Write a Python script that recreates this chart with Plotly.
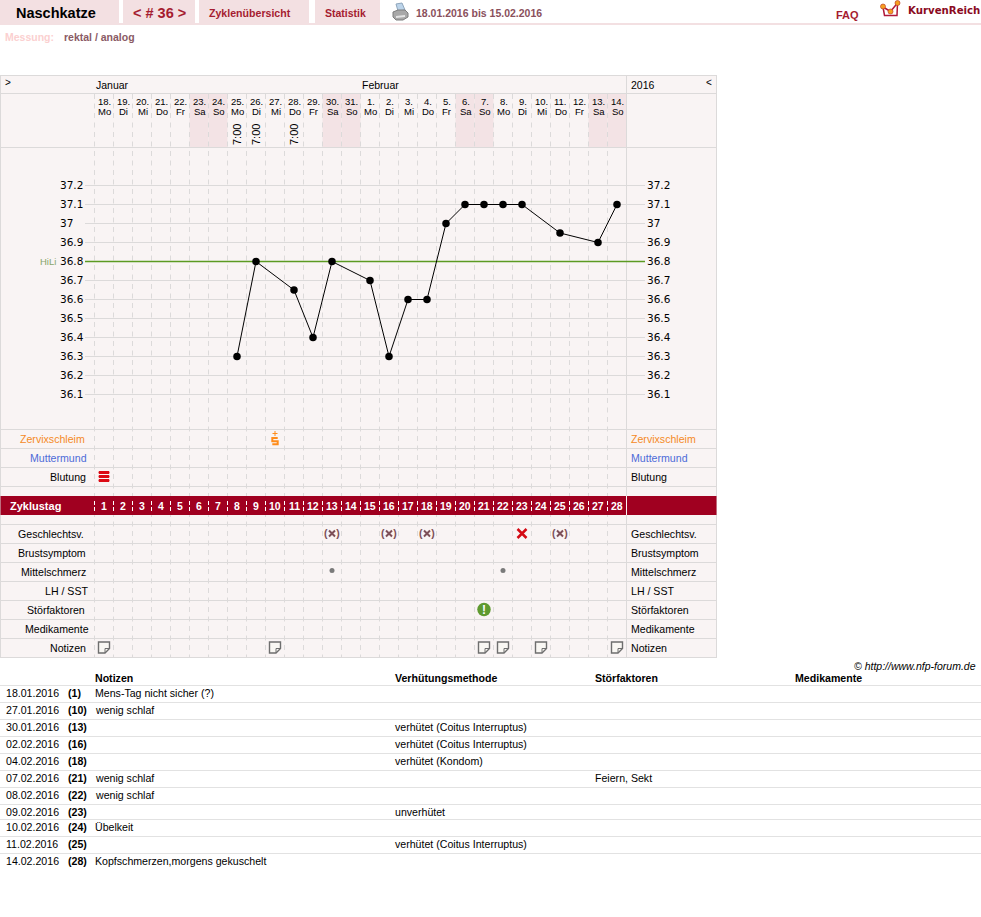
import plotly.graph_objects as go

# ---- cycle data ----
profile_name = "Naschkatze"
cycle_label = "< # 36 >"
date_range = "18.01.2016 bis 15.02.2016"
dates = [18, 19, 20, 21, 22, 23, 24, 25, 26, 27, 28, 29, 30, 31,
         1, 2, 3, 4, 5, 6, 7, 8, 9, 10, 11, 12, 13, 14]
weekdays = ["Mo", "Di", "Mi", "Do", "Fr", "Sa", "So"] * 4
cycle_days = list(range(1, 29))
time_days = [8, 9, 11]
time_label = "7:00"

temp_days = [8, 9, 11, 12, 13, 15, 16, 17, 18, 19, 20, 21, 22, 23, 25, 27, 28]
temp_values = [36.3, 36.8, 36.65, 36.4, 36.8, 36.7, 36.3, 36.6, 36.6, 37.0,
               37.1, 37.1, 37.1, 37.1, 36.95, 36.9, 37.1]
temp_ticks = [37.2, 37.1, 37.0, 36.9, 36.8, 36.7, 36.6, 36.5, 36.4, 36.3, 36.2, 36.1]
cover_line = 36.8

weekend_days = [6, 7, 13, 14, 20, 21, 27, 28]
mucus_days = [10]
bleeding_days = [1]
protected_sex_days = [13, 16, 18, 25]
unprotected_sex_days = [23]
pain_days = [13, 22]
disturbance_days = [21]
note_days = [1, 10, 21, 22, 24, 28]

upper_rows = ["Zervixschleim", "Muttermund", "Blutung"]
lower_rows = ["Geschlechtsv.", "Brustsymptom", "Mittelschmerz", "LH / SST",
              "Störfaktoren", "Medikamente", "Notizen"]

note_header = ["Notizen", "Verhütungsmethode", "Störfaktoren", "Medikamente"]
note_dates = ["18.01.2016", "27.01.2016", "30.01.2016", "02.02.2016", "04.02.2016", "07.02.2016",
              "08.02.2016", "09.02.2016", "10.02.2016", "11.02.2016", "14.02.2016"]
note_cycle = ["(1)", "(10)", "(13)", "(16)", "(18)", "(21)", "(22)", "(23)", "(24)", "(25)", "(28)"]
note_text = ["Mens-Tag nicht sicher (?)", "wenig schlaf", "", "", "", "wenig schlaf", "wenig schlaf",
             "", "Übelkeit", "", "Kopfschmerzen,morgens gekuschelt"]
note_method = ["", "", "verhütet (Coitus Interruptus)", "verhütet (Coitus Interruptus)",
               "verhütet (Kondom)", "", "", "unverhütet", "", "verhütet (Coitus Interruptus)", ""]
note_factors = ["", "", "", "", "", "Feiern, Sekt", "", "", "", "", ""]

# ---- page geometry and palette ----
W, H = 981, 917
DAY_PX = 19.0
DAY1_PX = 104.0
T_PX = 190.0
T_REF = 37.2
T_REF_PX = 185.5

SANS = "Liberation Sans"
CELL = "#f9f4f4"
WEEKEND = "#f3e3e5"
LINE = "#dcdada"
PINK = "#f3e0e2"
CRIMSON = "#a51c30"
BAND = "#a00020"
MAUVE = "#7d4f58"

shapes, notes = [], []


def day_at(px):
    return 1 + (px - DAY1_PX) / DAY_PX


def rect(x0, y0, x1, y1, fill):
    shapes.append(dict(type="rect", xref="x2", yref="y2", x0=x0, y0=y0, x1=x1, y1=y1,
                       fillcolor=fill, line=dict(width=0), layer="below"))


def hline(x0, x1, y, color=LINE, width=1):
    shapes.append(dict(type="line", xref="x2", yref="y2", x0=x0, x1=x1, y0=y, y1=y,
                       line=dict(color=color, width=width), layer="below"))


def vline(x, y0, y1, color=LINE, width=1):
    shapes.append(dict(type="line", xref="x2", yref="y2", x0=x, x1=x, y0=y0, y1=y1,
                       line=dict(color=color, width=width), layer="below"))


def glyph(day, row_y, path, fill="rgba(0,0,0,0)", color="rgba(0,0,0,0)", width=0):
    # Pixel-sized icon anchored to a cycle day and a table row
    shapes.append(dict(type="path", xref="x", yref="y2", xsizemode="pixel", ysizemode="pixel",
                       xanchor=day, yanchor=row_y, path=path, fillcolor=fill,
                       line=dict(color=color, width=width), layer="below"))


def pix(path, fill="rgba(0,0,0,0)", color="rgba(0,0,0,0)", width=0):
    shapes.append(dict(type="path", xref="x2", yref="y2", path=path, fillcolor=fill,
                       line=dict(color=color, width=width), layer="below"))


def label(x, y, text, size=10.6, color="#000", bold=False, anchor="left", family=SANS,
          xref="x2", yref="y2", angle=0, italic=False, yshift=0):
    if bold:
        text = f"<b>{text}</b>"
    if italic:
        text = f"<i>{text}</i>"
    notes.append(dict(x=x, y=y, xref=xref, yref=yref, text=text, showarrow=False, yshift=yshift,
                      xanchor=anchor, yanchor="middle", textangle=angle, borderpad=0, borderwidth=0,
                      font=dict(family=family, size=size, color=color)))


# ---- top navigation ----
rect(0, 0, 119, 23, PINK)
rect(123, 0, 195, 23, PINK)
rect(199, 0, 309, 23, PINK)
rect(315, 0, 380, 23, PINK)
rect(0, 23, W, 25, PINK)
label(16, 13, profile_name, size=14.5, bold=True)
label(133, 13, cycle_label, size=14.5, bold=True, color=CRIMSON)
label(209, 12.5, "Zyklenübersicht", size=10.6, bold=True, color=CRIMSON)
label(325, 12.5, "Statistik", size=10.5, bold=True, color=CRIMSON)
label(415.5, 12.5, date_range, size=10.5, bold=True, color="#8a505c")
label(836, 14.5, "FAQ", size=11, bold=True, color=CRIMSON)
label(908, 10.5, "KurvenReich", size=10.2, bold=True, color="#8a0a1e", family="DejaVu Sans")
label(5, 36.5, "Messung:", size=10.5, bold=True, color="#fbd0d0")
label(64, 36.5, "rektal / analog", size=10.5, bold=True, color="#8a5a64")

# printer icon
pix("M396,4 L402,3 L405,10 L398,11 Z", fill="#bcd4ea", color="#8fa6bc", width=1)
pix("M393,12 L398,10 L405,10 L408,13 L408,17 L403,20 L396,20 L393,17 Z", fill="#a8a8a8", color="#7d7d7d", width=1)
pix("M396,16 L405,15 L405,17 L396,18 Z", fill="#e4e4e4")

# logo
pix("M883,7 L884.5,15.5 L897,15.5 L897.5,3", color="#b0183a", width=1.5)
pix("M883,7 L890.5,11.5 L897.5,3", color="#b0183a", width=1.5)
for cx, cy in ((883, 6.5), (890.5, 11.5), (897.5, 3)):
    shapes.append(dict(type="circle", xref="x2", yref="y2", x0=cx - 2.5, x1=cx + 2.5, y0=cy - 2.5, y1=cy + 2.5,
                       fillcolor="#f5a020", line=dict(color="#c0402a", width=0.7), layer="below"))

# ---- chart table: backgrounds ----
rect(0.5, 75.5, 716.5, 657.5, CELL)
for d in weekend_days:
    shapes.append(dict(type="rect", xref="x", yref="y2", x0=d - 0.5, x1=d + 0.5, y0=93.5, y1=147.5,
                       fillcolor=WEEKEND, line=dict(width=0), layer="below"))

# dashed day separators
for d in cycle_days:
    shapes.append(dict(type="line", xref="x", yref="y2", x0=d - 0.5, x1=d - 0.5, y0=94, y1=657,
                       line=dict(color=LINE, width=1, dash="5px,4.5px"), layer="below"))

# table rules
row_rules = [75.5, 93.5, 147.5, 429.5, 448.5, 467.5, 486.5, 524.5, 543.5, 562.5,
             581.5, 600.5, 619.5, 638.5, 657.5]
for y in row_rules:
    hline(0, 717, y)
vline(0.5, 75, 658)
vline(626.5, 75, 658)
vline(716.5, 75, 658)

# temperature tick labels
for t in temp_ticks:
    txt = f"{t:g}"
    label(60, t, txt, size=10.5, family="DejaVu Sans", yref="y", yshift=1)
    label(647, t, txt, size=10.5, family="DejaVu Sans", yref="y", yshift=1)
label(40, cover_line, "HiLi", size=9.5, color="#87a56a", yref="y")

# cycle-day band
rect(0.5, 496, 716.5, 515, BAND)
vline(626.5, 496, 515, color="#f8f3f3")
for d in cycle_days:
    shapes.append(dict(type="line", xref="x", yref="y2", x0=d - 0.5, x1=d - 0.5, y0=501, y1=511,
                       line=dict(color="#ffffff", width=1, dash="4px,2px"), layer="below"))
    label(d, 505.5, str(d), size=10.5, bold=True, color="#fff", anchor="center", xref="x")
label(10, 505.5, "Zyklustag", size=11, bold=True, color="#fff")

# calendar header
label(5, 82.5, "&gt;", size=10)
label(96, 85, "Januar", size=10.5)
label(362, 85, "Februar", size=10.5)
label(631, 85, "2016", size=10.5)
label(706, 82.5, "&lt;", size=10)
for d, day, wd in zip(cycle_days, dates, weekdays):
    label(d + 0.03, 101, f"{day}.", size=9.5, anchor="center", xref="x")
    label(d + 0.03, 111, wd, size=9.5, anchor="center", xref="x")
for d in time_days:
    label(d, 135, time_label, size=11, anchor="center", xref="x", angle=-90)

# ---- row captions ----
upper_y = [438.5, 457.5, 476.5]
lower_y = [533.5, 552.5, 571.5, 590.5, 609.5, 628.5, 647.5]
upper_colors = ["#f58a1f", "#4d6bd8", "#000"]
upper_left = [20, 30, 50]
lower_left = [18, 18, 21, 45, 27, 25, 50]
for name, y, c, x in zip(upper_rows, upper_y, upper_colors, upper_left):
    label(x, y, name, color=c)
    label(631, y, name, color=c)
for name, y, x in zip(lower_rows, lower_y, lower_left):
    label(x, y, name)
    label(631, y, name)

# ---- observation symbols ----
# mucus: plus sign above an angular S
for d in mucus_days:
    glyph(d, upper_y[0], "M2.7,0.5 H-2.7 V-2.65 H2.7 V-5.8 H-2.7", color="#ff8c1a", width=2)
    glyph(d, upper_y[0], "M-2.5,5 H2.5 M0,7.5 V2.5", color="#ff8c1a", width=1)
# bleeding: three stacked rounded bars
for d in bleeding_days:
    for off in (4, 0, -4):
        glyph(d, upper_y[2],
              f"M-5,{off-1.4} H5 Q6.2,{off} 5,{off+1.4} H-5 Q-6.2,{off} -5,{off-1.4} Z",
              fill="#dc0a14")
# notes: sheet with a folded corner
for d in note_days:
    glyph(d, lower_y[6], "M-5.5,5.5 H5.5 V-1 L1,-5.5 H-5.5 Z", fill="#f9f7f3", color="#6e6e6e", width=1.4)
    glyph(d, lower_y[6], "M5.5,-1 H1 V-5.5", color="#6e6e6e", width=1)

# temperature grid and cover line sit beneath the curve
grid_x, grid_y = [], []
for t in temp_ticks:
    grid_x += [day_at(85), day_at(645), None]
    grid_y += [t, t, None]

traces = [
    go.Scatter(x=grid_x, y=grid_y, mode="lines", xaxis="x", yaxis="y",
               line=dict(color=LINE, width=1)),
    go.Scatter(x=[day_at(85), day_at(645)], y=[cover_line, cover_line], mode="lines", xaxis="x", yaxis="y",
               line=dict(color="#5c9a22", width=1.5)),
    go.Scatter(x=temp_days, y=temp_values, mode="lines+markers", xaxis="x", yaxis="y",
               line=dict(color="#000", width=1), marker=dict(color="#000", size=7.5)),
    go.Scatter(x=protected_sex_days, y=[lower_y[0]] * len(protected_sex_days), mode="markers",
               xaxis="x", yaxis="y2",
               marker=dict(symbol="x-thin", size=6, line=dict(width=2, color=MAUVE))),
    go.Scatter(x=unprotected_sex_days, y=[lower_y[0]] * len(unprotected_sex_days), mode="markers",
               xaxis="x", yaxis="y2",
               marker=dict(symbol="x-thin", size=9, line=dict(width=2.5, color="#d40a14"))),
    go.Scatter(x=pain_days, y=[lower_y[2] - 1] * len(pain_days), mode="markers",
               xaxis="x", yaxis="y2", marker=dict(size=5, color="#7a7a7a")),
    go.Scatter(x=disturbance_days, y=[lower_y[4]] * len(disturbance_days), mode="markers",
               xaxis="x", yaxis="y2", marker=dict(size=13.5, color="#5f9a30")),
]
for d in protected_sex_days:
    label(d, lower_y[0] - 1, "(&#160;&#160;&#160;)", size=10.5, bold=True, color=MAUVE, anchor="center", xref="x")
for d in disturbance_days:
    label(d, lower_y[4], "!", size=12, bold=True, color="#fff", anchor="center", xref="x")

# ---- notes table ----
label(976, 665.5, "© http://www.nfp-forum.de", size=10.5, italic=True, anchor="right")
for txt, x in zip(note_header, (95, 395, 595, 795)):
    label(x, 678, txt, size=10.6, bold=True)
rule_y = [685.5, 702.5, 719.5, 736.5, 753.5, 770.5, 787.5, 804.5, 819.5, 836.5, 853.5]
row_y = [693, 710, 727, 744, 761, 778, 795, 812, 827, 844, 861]
for y in rule_y:
    hline(0, W, y, color="#e2e2e2")
for y, a, b, c, e, f in zip(row_y, note_dates, note_cycle, note_text, note_method, note_factors):
    label(5.5, y, a)
    label(68, y, b, bold=True)
    if c:
        label(95, y, c)
    if e:
        label(395, y, e)
    if f:
        label(595, y, f)

hidden = dict(visible=False, fixedrange=True)
fig = go.Figure(traces)
fig.update_layout(
    width=W, height=H, margin=dict(l=0, r=0, t=0, b=0, pad=0),
    paper_bgcolor="#fff", plot_bgcolor="rgba(0,0,0,0)", showlegend=False,
    shapes=shapes, annotations=notes, hovermode=False,
    xaxis=dict(range=[day_at(0), day_at(W)], domain=[0, 1], **hidden),
    yaxis=dict(range=[T_REF - (H - T_REF_PX) / T_PX, T_REF + T_REF_PX / T_PX], domain=[0, 1], **hidden),
    xaxis2=dict(range=[0, W], domain=[0, 1], overlaying="x", **hidden),
    yaxis2=dict(range=[H, 0], domain=[0, 1], overlaying="y", **hidden),
)
fig.write_html("out.html", config=dict(displayModeBar=False))
